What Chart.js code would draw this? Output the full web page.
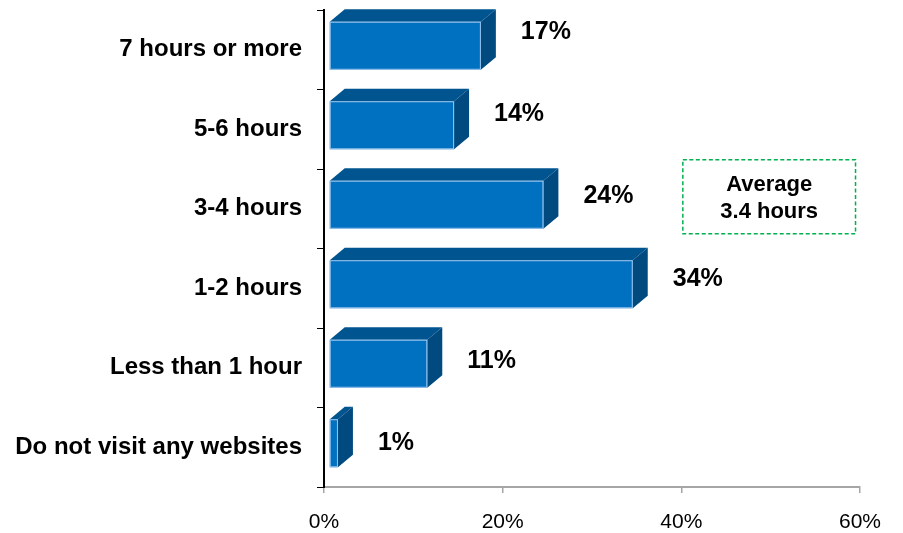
<!DOCTYPE html>
<html>
<head>
<meta charset="utf-8">
<script src="https://cdn.jsdelivr.net/npm/chart.js@4.4.1/dist/chart.umd.min.js"></script>
<style>
  html, body { margin: 0; padding: 0; background: #fff; }
  #wrap { width: 903px; height: 533px; }
</style>
</head>
<body>
<div id="wrap"><canvas id="c" width="903" height="533"></canvas></div>
<script>
// Daily time spent on websites — share of respondents
const categories = ['7 hours or more', '5-6 hours', '3-4 hours', '1-2 hours', 'Less than 1 hour', 'Do not visit any websites'];
const shares = [17, 14, 24, 34, 11, 1];
const xTicks = [0, 20, 40, 60];
const noteLines = ['Average', '3.4 hours'];

const FONT = '"Liberation Sans", Arial, sans-serif';
const FRONT = '#0070c0';
const TOP = '#00548f';
const SIDE = '#004a80';
const DEPTH_X = 15, DEPTH_Y = 12.5, FACE = 48, SHIFT_X = 5, SHIFT_Y = 4;

// Draws each bar as an extruded box (front, top and right faces) plus its value label
const boxBars = {
  id: 'boxBars',
  afterDatasetsDraw(chart) {
    const ctx = chart.ctx;
    const meta = chart.getDatasetMeta(0);
    ctx.save();
    meta.data.forEach((bar, i) => {
      const p = bar.getProps(['x', 'y', 'base'], true);
      const x0 = p.base + SHIFT_X, x1 = p.x + SHIFT_X;
      const yT = p.y - FACE / 2 - SHIFT_Y, yB = yT + FACE;
      // top face
      ctx.fillStyle = TOP;
      ctx.beginPath();
      ctx.moveTo(x0, yT); ctx.lineTo(x0 + DEPTH_X, yT - DEPTH_Y);
      ctx.lineTo(x1 + DEPTH_X, yT - DEPTH_Y); ctx.lineTo(x1, yT); ctx.closePath();
      ctx.fill();
      // side face
      ctx.fillStyle = SIDE;
      ctx.beginPath();
      ctx.moveTo(x1, yT); ctx.lineTo(x1 + DEPTH_X, yT - DEPTH_Y);
      ctx.lineTo(x1 + DEPTH_X, yB - DEPTH_Y); ctx.lineTo(x1, yB); ctx.closePath();
      ctx.fill();
      // front face
      ctx.fillStyle = FRONT;
      ctx.fillRect(x0, yT, x1 - x0, FACE);
      ctx.strokeStyle = 'rgba(170,205,240,0.9)';
      ctx.lineWidth = 1;
      ctx.strokeRect(x0 + 0.5, yT + 0.5, x1 - x0 - 1, FACE - 1);
      // value label
      ctx.fillStyle = '#000';
      ctx.font = 'bold 25px ' + FONT;
      ctx.textAlign = 'left';
      ctx.textBaseline = 'middle';
      const ly = p.y - 18 + 2.8 * i;
      ctx.fillText(shares[i] + '%', x1 + DEPTH_X + 25, ly);
    });
    ctx.restore();
  }
};

// Dashed note box beside the 3-4 hours bar
const noteBox = {
  id: 'noteBox',
  afterDraw(chart) {
    const ctx = chart.ctx;
    const xs = chart.scales.x, ys = chart.scales.y;
    const left = xs.getPixelForValue(40) + 1.5;
    const right = xs.getPixelForValue(59.5);
    const cy = ys.getPixelForValue(2) - 12;
    const top = cy - 37, bottom = cy + 37;
    ctx.save();
    ctx.strokeStyle = '#00b050';
    ctx.lineWidth = 1.5;
    ctx.setLineDash([4, 2.5]);
    ctx.strokeRect(left, top, right - left, bottom - top);
    ctx.setLineDash([]);
    ctx.fillStyle = '#000';
    ctx.font = 'bold 22px ' + FONT;
    ctx.textAlign = 'center';
    ctx.textBaseline = 'middle';
    const cx = (left + right) / 2;
    ctx.fillText(noteLines[0], cx, cy - 12);
    ctx.fillText(noteLines[1], cx, cy + 15);
    ctx.restore();
  }
};

new Chart(document.getElementById('c'), {
  type: 'bar',
  data: {
    labels: categories,
    datasets: [{
      data: shares,
      backgroundColor: 'rgba(0,0,0,0)',
      borderWidth: 0,
      barThickness: FACE
    }]
  },
  options: {
    indexAxis: 'y',
    responsive: false,
    animation: false,
    events: [],
    layout: { padding: { top: 10, right: 43, bottom: 0, left: 0 } },
    plugins: { legend: { display: false }, tooltip: { enabled: false } },
    scales: {
      x: {
        min: 0, max: 60,
        afterBuildTicks(scale) { scale.ticks = xTicks.map(v => ({ value: v })); },
        afterFit(scale) { scale.height = 46; scale.paddingLeft = 0; scale.paddingRight = 0; },
        ticks: {
          callback: v => v + '%',
          color: '#000',
          padding: 17,
          font: { family: FONT, size: 21 },
          maxRotation: 0
        },
        grid: { drawOnChartArea: false, tickLength: 6, color: '#a6a6a6', lineWidth: 1.5 },
        border: { color: '#a6a6a6', width: 2 }
      },
      y: {
        offset: true,
        afterFit(scale) { scale.width = 324; scale.paddingTop = 0; scale.paddingBottom = 0; },
        ticks: {
          color: '#000',
          padding: 15,
          font: { family: FONT, size: 24, weight: 'bold' }
        },
        grid: { offset: true, drawOnChartArea: false, tickLength: 7, color: '#000', lineWidth: 1 },
        border: { color: '#000', width: 2 }
      }
    }
  },
  plugins: [boxBars, noteBox]
});
</script>
</body>
</html>
